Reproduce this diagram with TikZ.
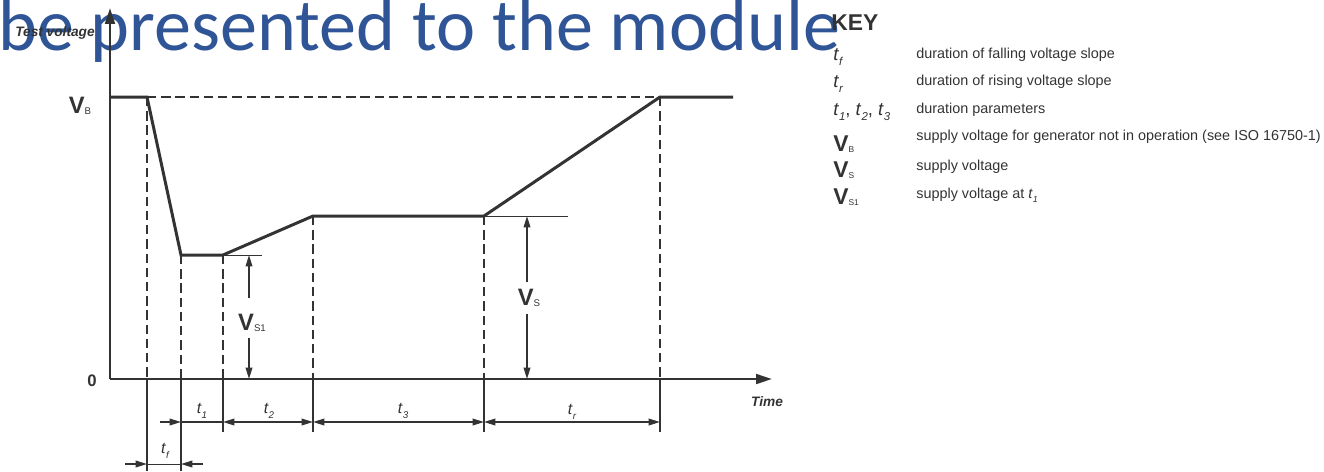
\documentclass[tikz,border=0pt]{standalone}
\usepackage{fontspec}
\setmainfont{Liberation Sans}
\newfontfamily\titlefont{Carlito}
\usetikzlibrary{arrows.meta}
\definecolor{inkgrey}{HTML}{333333}
\definecolor{slideblue}{HTML}{2F5597}
% symbols: bold V with small subscript, italic t with subscript
\newcommand{\vsym}[1]{{\fontsize{13.5}{13}\selectfont\bfseries V}\raisebox{-0.8pt}{\fontsize{5.5}{6}\selectfont #1}}
\newcommand{\kvsym}[1]{{\fontsize{13}{13}\selectfont\bfseries V}\raisebox{-0.8pt}{\fontsize{4.8}{5}\selectfont #1}}
\newcommand{\tsym}[1]{\textit{t}\raisebox{-0.28em}{\fontsize{0.62em}{0.7em}\selectfont\itshape #1}}
\tikzset{
  title/.style={font=\titlefont\fontsize{42.2}{43}\selectfont, text=slideblue, anchor=base west, inner sep=0pt},
  axis/.style={line width=1.4pt, -{Triangle[length=9pt,width=5.5pt]}},
  wave/.style={line width=1.7pt, line join=miter},
  guide/.style={line width=1.1pt, dash pattern=on 5.3pt off 2.8pt},
  ext/.style={line width=1.1pt},
  dim/.style={line width=0.9pt},
  fine/.style={line width=0.5pt},
  axlabel/.style={font=\fontsize{7.8}{9}\selectfont\bfseries\itshape},
  tlabel/.style={font=\fontsize{9}{10}\selectfont},
  keysym/.style={anchor=west, inner sep=0pt, font=\fontsize{10.5}{11}\selectfont},
  keytext/.style={anchor=west, inner sep=0pt, font=\fontsize{8.2}{10}\selectfont}
}
\begin{document}
\begin{tikzpicture}[x=0.02cm, y=-0.02cm, >={Triangle[length=6.5pt,width=3.8pt]}, color=inkgrey]
  \useasboundingbox (0,0) rectangle (1324,471);
  % Slide title behind the chart
  \node[title] (title) at (-2,50) {be presented to the module};
  % Points of the pulse
  \coordinate (orig) at (110,379);
  \coordinate (ytop) at (110,8);
  \coordinate (xend) at (772,379);
  \coordinate (vb0) at (110,97);
  \coordinate (fall) at (147,97);
  \coordinate (low) at (181,255);
  \coordinate (rise1) at (223,255);
  \coordinate (knee) at (313,216);
  \coordinate (rise2) at (484,216);
  \coordinate (top) at (660,97);
  \coordinate (vbend) at (733,97);
  \coordinate (row1) at (0,422);
  \coordinate (row2) at (0,464);
  % Axes
  \draw[axis] (orig) -- (ytop);
  \draw[axis] (orig) -- (xend);
  \node[axlabel] (ylab) at (55,33) {Test voltage};
  \node[axlabel] (xlab) at (767,402) {Time};
  \node[font=\fontsize{9.5}{10}\selectfont\bfseries] (zero) at (92,381) {0};
  \node[anchor=base] (vblab) at (80,113) {\vsym{B}};
  % Pulse
  \draw[wave] (vb0) -- (fall) -- (low) -- (rise1) -- (knee) -- (rise2) -- (top) -- (vbend);
  \draw[guide] (fall) -- (top);
  % Guides to the time axis and lines below it
  \foreach \p in {fall,low,rise1,knee,rise2,top}
    \draw[guide] (\p) -- (\p |- orig);
  \foreach \p/\len in {fall/92,low/92,rise1/53,knee/53,rise2/53,top/53}
    \draw[ext] (\p |- orig) -- ++(0,\len);
  % Durations
  \coordinate (t1in) at (160,422);
  \draw[dim,->] (t1in) -- (low |- row1);
  \draw[dim] (low |- row1) -- (rise1 |- row1);
  \draw[dim,<->] (rise1 |- row1) -- (knee |- row1);
  \draw[dim,<->] (knee |- row1) -- (rise2 |- row1);
  \draw[dim,<->] (rise2 |- row1) -- (top |- row1);
  \node[tlabel] (lt1) at (202,411) {\tsym{1}};
  \node[tlabel] (lt2) at (269,411) {\tsym{2}};
  \node[tlabel] (lt3) at (403,411) {\tsym{3}};
  \node[tlabel] (ltr) at (572,412) {\tsym{r}};
  \coordinate (tfin) at (125,464);
  \coordinate (tfout) at (203,464);
  \draw[dim,->] (tfin) -- (fall |- row2);
  \draw[fine] (fall |- row2) -- (low |- row2);
  \draw[dim,->] (tfout) -- (low |- row2);
  \node[tlabel] (ltf) at (165,451) {\tsym{f}};
  % V_S1
  \coordinate (vs1end) at (262,255);
  \coordinate (vs1top) at (249,255);
  \coordinate (vs1a) at (249,298);
  \coordinate (vs1b) at (249,338);
  \draw[fine] (rise1) -- (vs1end);
  \draw[dim,->] (vs1a) -- (vs1top);
  \draw[dim,->] (vs1b) -- (vs1top |- orig);
  \node[anchor=base] (vs1lab) at (252,330) {\vsym{S1}};
  % V_S
  \coordinate (vsend) at (568,216);
  \coordinate (vstop) at (527,216);
  \coordinate (vsa) at (527,282);
  \coordinate (vsb) at (527,314);
  \draw[fine] (rise2) -- (vsend);
  \draw[dim,->] (vsa) -- (vstop);
  \draw[dim,->] (vsb) -- (vstop |- orig);
  \node[anchor=base] (vslab) at (529,305) {\vsym{S}};
  % Key
  \node[anchor=west, inner sep=0pt, font=\fontsize{13}{13}\selectfont\bfseries] (keyhd) at (831,23) {KEY};
  \node[keysym] (ks1) at (833,57) {\tsym{f}};
  \node[keytext] (kt1) at (916,55) {duration of falling voltage slope};
  \node[keysym] (ks2) at (833,84) {\tsym{r}};
  \node[keytext] (kt2) at (916,82) {duration of rising voltage slope};
  \node[keysym] (ks3) at (833,112) {\tsym{1},\ \tsym{2},\ \tsym{3}};
  \node[keytext] (kt3) at (916,110) {duration parameters};
  \node[keysym] (ks4) at (833,144) {\kvsym{B}};
  \node[keytext] (kt4) at (916,137) {supply voltage for generator not in operation (see ISO 16750-1)};
  \node[keysym] (ks5) at (833,170) {\kvsym{S}};
  \node[keytext] (kt5) at (916,167) {supply voltage};
  \node[keysym] (ks6) at (833,197) {\kvsym{S1}};
  \node[keytext] (kt6) at (916,195) {supply voltage at \tsym{1}};
\end{tikzpicture}
\end{document}
